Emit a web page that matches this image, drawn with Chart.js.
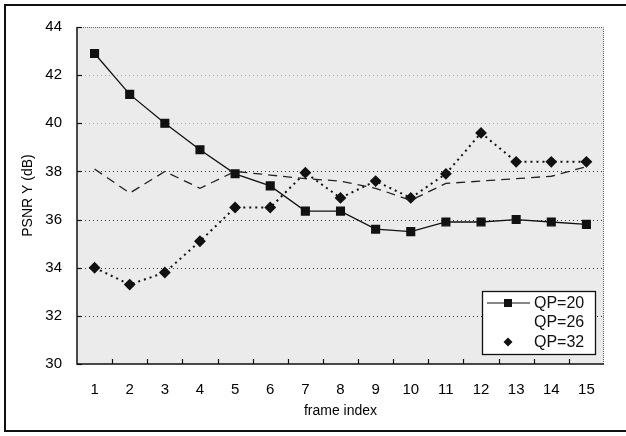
<!DOCTYPE html>
<html>
<head>
<meta charset="utf-8">
<script src="https://cdn.jsdelivr.net/npm/chart.js@4"></script>
<style>
  html, body { margin: 0; padding: 0; background: #fff; }
  #wrap { width: 626px; height: 436px; }
</style>
</head>
<body>
<div id="wrap"><canvas id="myChart" width="626" height="436"></canvas></div>
<script>
// data
var frames = ["1", "2", "3", "4", "5", "6", "7", "8", "9", "10", "11", "12", "13", "14", "15"];
var qp20 = [42.9, 41.2, 40.0, 38.9, 37.9, 37.4, 36.35, 36.35, 35.6, 35.5, 35.9, 35.9, 36.0, 35.9, 35.8];
var qp26 = [38.1, 37.1, 38.0, 37.3, 38.0, 37.85, 37.7, 37.6, 37.3, 36.8, 37.5, 37.6, 37.7, 37.8, 38.2];
var qp32 = [34.0, 33.3, 33.8, 35.1, 36.5, 36.5, 37.95, 36.9, 37.6, 36.9, 37.9, 39.6, 38.4, 38.4, 38.4];
var yTicks = [30, 32, 34, 36, 38, 40, 42, 44];
var seriesNames = ["QP=20", "QP=26", "QP=32"];

var FONT = "'Liberation Sans', Arial, sans-serif";

// background, frame, inner ticks, grid and legend box
var paperPlugin = {
  id: "paper",
  beforeDraw: function (chart) {
    var c = chart.ctx, a = chart.chartArea;
    c.save();
    c.fillStyle = "#fff";
    c.fillRect(0, 0, chart.width, chart.height);
    // outer figure frame
    c.strokeStyle = "#111";
    c.lineWidth = 2;
    c.beginPath();
    c.moveTo(626, 5); c.lineTo(5, 5); c.lineTo(5, 431); c.lineTo(626, 431);
    c.stroke();
    // plot background
    c.fillStyle = "#ebebeb";
    c.fillRect(a.left, a.top, a.right - a.left, a.bottom - a.top);
    c.restore();
  },
  beforeDatasetsDraw: function (chart) {
    var c = chart.ctx, a = chart.chartArea, ys = chart.scales.y;
    c.save();
    // dotted grid lines
    c.lineWidth = 1;
    c.setLineDash([1, 3]);
    yTicks.forEach(function (v) {
      if (v === 30 || v === 44) return;
      var py = Math.round(ys.getPixelForValue(v)) + 0.5;
      c.strokeStyle = v >= 40 ? "#aaa" : "#333";
      c.beginPath(); c.moveTo(a.left, py); c.lineTo(a.right, py); c.stroke();
    });
    // top/right border dotted
    c.strokeStyle = "#666";
    c.setLineDash([1, 1]);
    c.beginPath();
    c.moveTo(a.left, a.top + 0.5); c.lineTo(a.right - 0.5, a.top + 0.5); c.lineTo(a.right - 0.5, a.bottom);
    c.stroke();
    // left/bottom solid
    c.setLineDash([]);
    c.strokeStyle = "#111";
    c.lineWidth = 1.5;
    c.beginPath();
    c.moveTo(a.left, a.top); c.lineTo(a.left, a.bottom); c.lineTo(a.right, a.bottom);
    c.stroke();
    // inward ticks
    c.lineWidth = 1.2;
    var step = (a.right - a.left) / frames.length;
    for (var i = 1; i < frames.length; i++) {
      var px = Math.round(a.left + i * step) + 0.5;
      c.beginPath(); c.moveTo(px, a.bottom); c.lineTo(px, a.bottom - 5); c.stroke();
    }
    yTicks.forEach(function (v) {
      var py = Math.round(ys.getPixelForValue(v)) + 0.5;
      c.beginPath(); c.moveTo(a.left, py); c.lineTo(a.left + 5, py); c.stroke();
    });
    c.restore();
  },
  afterDraw: function (chart) {
    var c = chart.ctx;
    var bx = 482, by = 291, bw = 113, bh = 63;
    var rows = [303, 322, 342];
    c.save();
    c.fillStyle = "#fff";
    c.fillRect(bx, by, bw, bh);
    c.strokeStyle = "#111";
    c.lineWidth = 1.3;
    c.strokeRect(bx + 0.5, by + 0.5, bw, bh);
    // QP=20 sample: line with square
    c.lineWidth = 1.2;
    c.beginPath(); c.moveTo(487, rows[0]); c.lineTo(530, rows[0]); c.stroke();
    c.fillStyle = "#111";
    c.fillRect(504, rows[0] - 4, 8, 8);
    // QP=32 sample: diamond
    c.beginPath();
    c.moveTo(508, rows[2] - 4.5); c.lineTo(512.5, rows[2]); c.lineTo(508, rows[2] + 4.5); c.lineTo(503.5, rows[2]);
    c.closePath(); c.fill();
    c.font = "16px " + FONT;
    c.textBaseline = "middle";
    c.textAlign = "left";
    seriesNames.forEach(function (n, i) {
      c.fillText(n, 534, rows[i] + 1);
    });
    c.restore();
  }
};

var ctx = document.getElementById("myChart").getContext("2d");

new Chart(ctx, {
  type: "line",
  data: {
    labels: frames,
    datasets: [
      {
        label: seriesNames[0],
        data: qp20,
        borderColor: "#111",
        borderWidth: 1.3,
        pointStyle: "rect",
        pointRadius: 5.5,
        pointBackgroundColor: "#111",
        pointBorderColor: "#111",
        tension: 0
      },
      {
        label: seriesNames[1],
        data: qp26,
        borderColor: "#222",
        borderWidth: 1.3,
        borderDash: [9, 6],
        pointRadius: 0,
        tension: 0
      },
      {
        label: seriesNames[2],
        data: qp32,
        borderColor: "#111",
        borderWidth: 2,
        borderDash: [2, 4],
        pointStyle: "rectRot",
        pointRadius: 4.5,
        pointBackgroundColor: "#111",
        pointBorderColor: "#111",
        tension: 0
      }
    ]
  },
  options: {
    responsive: false,
    animation: false,
    devicePixelRatio: 1,
    layout: { padding: { left: 8, right: 22, top: 27, bottom: 0 } },
    plugins: {
      legend: { display: false },
      tooltip: { enabled: false }
    },
    scales: {
      x: {
        type: "category",
        offset: true,
        grid: { display: false, drawTicks: false },
        border: { display: false },
        ticks: {
          color: "#000",
          padding: 17,
          maxRotation: 0,
          font: { family: FONT, size: 15 }
        },
        title: {
          display: true,
          text: "frame index",
          color: "#000",
          padding: { top: 0, bottom: 16 },
          font: { family: FONT, size: 14 }
        },
        afterFit: function (scale) { scale.height = 72; }
      },
      y: {
        min: 30,
        max: 44,
        grid: { display: false, drawTicks: false },
        border: { display: false },
        afterBuildTicks: function (scale) {
          scale.ticks = yTicks.map(function (v) { return { value: v }; });
        },
        ticks: {
          color: "#000",
          padding: 15,
          font: { family: FONT, size: 15 }
        },
        title: {
          display: true,
          text: "PSNR Y (dB)",
          color: "#000",
          padding: { top: 12, bottom: 0 },
          font: { family: FONT, size: 14 }
        },
        afterFit: function (scale) { scale.width = 69; }
      }
    }
  },
  plugins: [paperPlugin]
});
</script>
</body>
</html>
